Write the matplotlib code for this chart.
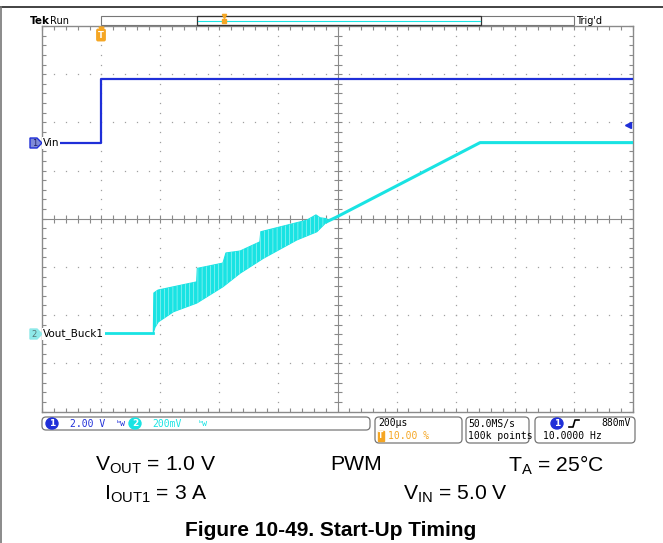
import numpy as np
import matplotlib
matplotlib.use('Agg')
import matplotlib.pyplot as plt
from matplotlib.patches import Rectangle, FancyBboxPatch, Polygon, Ellipse

# time in us (200 us/div, trigger at 10 %), level in screen divisions
vin_t = [-200, 0, 0, 1800]
vin_y = [1.58, 1.58, 2.89, 2.89]

vout_flat_t = [-200, 176]
vout_flat_y = [-2.37, -2.37]
# noisy soft-start part: upper and lower envelope of the trace
band_up_t = [176, 178, 192, 323, 325, 412, 422, 470, 537, 540, 696, 727, 741, 764]
band_up_y = [-2.37, -1.54, -1.48, -1.31, -1.03, -0.92, -0.71, -0.67, -0.48, -0.27, -0.03, 0.08, 0.02, 0.00]
band_lo_t = [176, 182, 193, 244, 323, 412, 470, 549, 662, 730, 764]
band_lo_y = [-2.37, -2.25, -2.14, -1.93, -1.75, -1.41, -1.13, -0.82, -0.44, -0.27, -0.06]
vout_ramp_t = [764, 795, 1283, 1800]
vout_ramp_y = [-0.06, 0.03, 1.58, 1.58]

trig_level = 1.95

BLUE = '#1f2fd8'
CYAN = '#19e3e3'
ORANGE = '#f5a623'
GRID = '#8a8a8a'

plt.rcParams['hatch.linewidth'] = 0.4

W, H = 663, 543
fig = plt.figure(figsize=(W / 100, H / 100), dpi=100)

# scope screen
L, R, T, B = 42.3, 632.7, 26.0, 411.5
ax = fig.add_axes([L / W, 1 - B / H, (R - L) / W, (B - T) / H])
ax.set_xlim(-200, 1800)
ax.set_ylim(-4, 4)
ax.set_xticks(np.arange(-200, 1801, 200))
ax.set_yticks(np.arange(-4, 5, 1))
ax.set_xticks(np.arange(-200, 1801, 40), minor=True)
ax.set_yticks(np.arange(-4, 4.01, 0.2), minor=True)
ax.tick_params(which='both', direction='in', length=3, width=0.8, color=GRID,
               top=True, right=True, labelbottom=False, labelleft=False)
for s in ax.spines.values():
    s.set_color(GRID)
    s.set_linewidth(1.0)

# dotted grid
for xv in np.arange(0, 1800, 200):
    if xv == 800:
        continue
    yy = np.arange(-3.8, 4, 0.2)
    ax.plot(np.full(len(yy), xv), yy, ls='none', marker='s', ms=0.9, color='#a0a0a0', mew=0)
for yv in range(-3, 4):
    if yv == 0:
        continue
    xx = np.arange(-160, 1800, 40)
    ax.plot(xx, np.full(len(xx), yv), ls='none', marker='s', ms=0.9, color='#a0a0a0', mew=0)
# center cross with ticks
ax.axhline(0, color=GRID, lw=0.8)
ax.axvline(800, color=GRID, lw=0.8)
xx = np.arange(-160, 1800, 40)
ax.plot(xx, np.zeros(len(xx)), ls='none', marker='|', ms=6, mew=0.8, color=GRID)
yy = np.arange(-3.8, 4, 0.2)
ax.plot(np.full(len(yy), 800), yy, ls='none', marker='_', ms=6, mew=0.8, color=GRID)

# traces
ax.plot(vin_t, vin_y, color=BLUE, lw=1.6, zorder=5)
ax.plot(vout_flat_t, vout_flat_y, color=CYAN, lw=2, zorder=4)
band_x = band_up_t + band_lo_t[::-1]
band_y = band_up_y + band_lo_y[::-1]
ax.fill(band_x, band_y, facecolor=CYAN, edgecolor=CYAN, lw=0.8, zorder=4)
ax.fill(band_x, band_y, facecolor='none', edgecolor='#b8f6f6', hatch='||||', lw=0, zorder=4)
ax.plot(vout_ramp_t, vout_ramp_y, color=CYAN, lw=2.2, zorder=4)
ax.plot([1785], [trig_level], marker='<', ms=4, color=BLUE, zorder=6)

# overlay in pixel coordinates
ov = fig.add_axes([0, 0, 1, 1], facecolor='none')
ov.set_xlim(0, W)
ov.set_ylim(H, 0)
ov.axis('off')

# page frame
ov.plot([0, W], [6.5, 6.5], color='#222222', lw=1.2)
ov.plot([1.2, 1.2], [6.5, H], color='#777777', lw=1.2)

# top status
ov.text(30, 21, 'Tek', fontsize=7.5, fontweight='bold', family='DejaVu Sans', va='center')
ov.text(50, 21, 'Run', fontsize=7, family='DejaVu Sans', va='center')
ov.text(576, 21, "Trig'd", fontsize=7, family='DejaVu Sans', va='center')
ov.add_patch(Rectangle((101, 16), 473, 9, fill=False, ec='#777777', lw=0.8))
ov.add_patch(Rectangle((197, 16), 284, 9, fill=False, ec='#333333', lw=0.9))
ov.plot([198, 480], [20.5, 20.5], color=CYAN, lw=0.8)
ov.plot([224], [20.5], marker='s', ms=3.5, color=ORANGE)
ov.plot([224], [16], marker='v', ms=3, color=ORANGE)
ov.plot([101], [29], marker='v', ms=3.5, color=ORANGE)
ov.text(101, 35, 'T', fontsize=6, color='white', fontweight='bold', ha='center', va='center',
        bbox=dict(boxstyle='round,pad=0.15', fc=ORANGE, ec=ORANGE))

# channel markers
ov.add_patch(Polygon([[30, 138], [37, 138], [42, 143], [37, 148], [30, 148]],
                     closed=True, fc='#7f8ad8', ec=BLUE, lw=1))
ov.text(34.5, 143.5, '1', fontsize=6, color='#222266', ha='center', va='center')
ov.text(43, 143, 'Vin', fontsize=7.5, family='DejaVu Sans', va='center',
        bbox=dict(boxstyle='square,pad=0.05', fc='white', ec='none'))
ov.add_patch(Polygon([[30, 329], [37, 329], [42, 334], [37, 339], [30, 339]],
                     closed=True, fc='#8ee9e9', ec='#8ee9e9', lw=1))
ov.text(34.5, 334.5, '2', fontsize=6, color='#557777', ha='center', va='center')
ov.text(43, 334, 'Vout_Buck1', fontsize=7.5, family='DejaVu Sans', va='center',
        bbox=dict(boxstyle='square,pad=0.05', fc='white', ec='none'))

# bottom status boxes
def sbox(x0, y0, x1, y1):
    ov.add_patch(FancyBboxPatch((x0, y0), x1 - x0, y1 - y0,
                                boxstyle='round,pad=0,rounding_size=4',
                                fc='white', ec='#777777', lw=0.9))

sbox(42, 417, 370, 430)
sbox(375, 417, 462, 443)
sbox(466, 417, 529, 443)
sbox(535, 417, 635, 443)

mono = 'DejaVu Sans Mono'
ov.add_patch(Ellipse((52, 423.5), 12, 11, fc=BLUE, ec=BLUE))
ov.text(52, 424, '1', fontsize=6.5, color='white', ha='center', va='center', fontweight='bold')
ov.text(70, 424, '2.00 V', fontsize=7, color=BLUE, family=mono, va='center')
ov.text(116, 423, 'ᵇw', fontsize=6, color=BLUE, family=mono, va='center')
ov.add_patch(Ellipse((135, 423.5), 12, 11, fc=CYAN, ec=CYAN))
ov.text(135, 424, '2', fontsize=6.5, color='white', ha='center', va='center', fontweight='bold')
ov.text(152, 424, '200mV', fontsize=7, color=CYAN, family=mono, va='center')
ov.text(198, 423, 'ᵇw', fontsize=6, color=CYAN, family=mono, va='center')

ov.text(378, 423.5, '200µs', fontsize=7, family=mono, va='center')
ov.text(381, 436, 'T', fontsize=5.5, color='white', ha='center', va='center', fontweight='bold',
        bbox=dict(boxstyle='square,pad=0.1', fc=ORANGE, ec=ORANGE))
ov.text(388, 436, '10.00 %', fontsize=7, color=ORANGE, family=mono, va='center')
ov.text(468, 423.5, '50.0MS/s', fontsize=7, family=mono, va='center')
ov.text(468, 436, '100k points', fontsize=7, family=mono, va='center')
ov.add_patch(Ellipse((557, 423.5), 12, 11, fc=BLUE, ec=BLUE))
ov.text(557, 424, '1', fontsize=6.5, color='white', ha='center', va='center', fontweight='bold')
ov.plot([569, 573, 575, 579], [427, 427, 420, 420], color='black', lw=1.2)
ov.text(631, 423.5, '880mV', fontsize=7, family=mono, va='center', ha='right')
ov.text(543, 436, '10.0000 Hz', fontsize=7, family=mono, va='center')

# conditions and caption
cap = 'Liberation Sans'
fs = 15.2
ov.text(95, 465, r'V$_{\mathregular{OUT}}$ = 1.0 V', fontsize=fs, family=cap, va='center')
ov.text(330, 465, 'PWM', fontsize=fs, family=cap, va='center')
ov.text(508, 465, r'T$_{\mathregular{A}}$ = 25°C', fontsize=fs, family=cap, va='center')
ov.text(104, 494, r'I$_{\mathregular{OUT1}}$ = 3 A', fontsize=fs, family=cap, va='center')
ov.text(403, 494, r'V$_{\mathregular{IN}}$ = 5.0 V', fontsize=fs, family=cap, va='center')
ov.text(331, 530, 'Figure 10-49. Start-Up Timing', fontsize=15, family=cap,
        fontweight='bold', ha='center', va='center')

fig.savefig('out.png', dpi=100)
